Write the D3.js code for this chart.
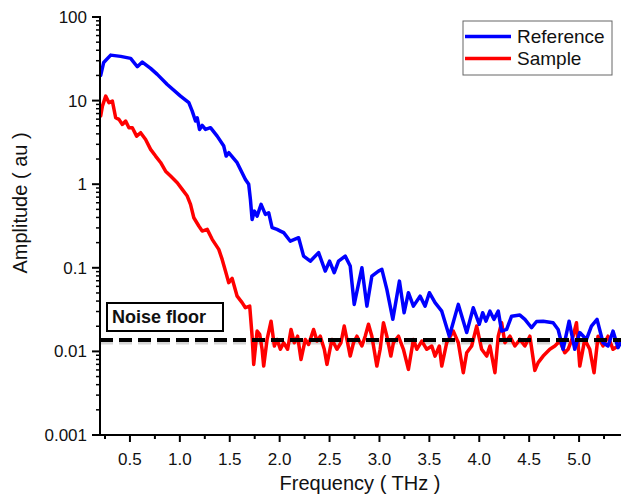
<!DOCTYPE html>
<html>
<head>
<meta charset="utf-8">
<script src="https://d3js.org/d3.v7.min.js"></script>
<style>
  body { margin: 0; background: #fff; }
  svg text { font-family: "Liberation Sans", Arial, sans-serif; fill: #111; }
</style>
</head>
<body>
<div id="chart"></div>
<script>
"use strict"

// Reference spectrum: frequency (THz), amplitude (au)
const refFreq = [0.207,0.237,0.307,0.407,0.507,0.574,0.624,0.707,0.774,0.874,1.007,1.09,1.124,1.157,1.174,1.197,1.224,1.257,1.307,1.374,
  1.44,1.464,1.49,1.574,1.657,1.69,1.707,1.724,1.747,1.774,1.814,1.857,1.89,1.924,1.974,2.007,2.04,2.107,2.19,2.24,
  2.307,2.39,2.457,2.5,2.547,2.59,2.657,2.707,2.747,2.824,2.874,2.924,2.99,3.024,3.074,3.134,3.2,3.247,3.29,3.34,
  3.407,3.457,3.5,3.557,3.624,3.7,3.79,3.874,3.94,4.0,4.034,4.067,4.107,4.147,4.19,4.224,4.274,4.324,4.407,4.457,
  4.524,4.574,4.64,4.74,4.79,4.84,4.9,4.957,5.007,5.074,5.124,5.18,5.24,5.29,5.34,5.39,5.417]
const refAmp = [20.0,28.6,35.0,33.8,32.0,25.4,28.9,24.3,20.6,15.6,11.3,9.44,7.49,5.69,6.24,4.52,5.05,4.52,4.74,3.76,
  2.86,2.17,2.38,1.81,1.14,0.996,0.658,0.379,0.476,0.415,0.573,0.436,0.456,0.302,0.288,0.275,0.263,0.208,0.229,0.138,
  0.120,0.152,0.0914,0.120,0.0873,0.120,0.138,0.105,0.0365,0.100,0.0348,0.0796,0.0914,0.0957,0.0552,0.0242,0.0693,0.0290,0.0504,0.0348,
  0.0458,0.0348,0.0504,0.0383,0.0303,0.0152,0.0365,0.0168,0.0333,0.0211,0.0290,0.0230,0.0303,0.0242,0.0303,0.0175,0.0183,0.0264,0.0272,0.0242,
  0.0192,0.0228,0.0230,0.0220,0.0183,0.0106,0.0230,0.0106,0.0168,0.0139,0.0201,0.0242,0.0127,0.0116,0.0175,0.0111,0.0128]

// Sample spectrum
const samFreq = [0.207,0.224,0.257,0.29,0.324,0.357,0.39,0.424,0.457,0.49,0.524,0.567,0.607,0.657,0.707,0.757,0.807,0.857,0.907,0.974,
  1.024,1.074,1.107,1.14,1.19,1.224,1.274,1.324,1.39,1.424,1.457,1.49,1.524,1.574,1.624,1.657,1.7,1.724,1.74,1.774,
  1.8,1.824,1.84,1.874,1.914,1.947,1.974,2.007,2.04,2.08,2.114,2.147,2.18,2.214,2.257,2.29,2.34,2.374,2.407,2.447,
  2.474,2.524,2.574,2.614,2.647,2.674,2.707,2.74,2.774,2.824,2.857,2.89,2.924,2.974,3.007,3.04,3.074,3.114,3.14,3.19,
  3.24,3.29,3.34,3.374,3.424,3.474,3.524,3.557,3.6,3.624,3.674,3.74,3.79,3.84,3.874,3.924,3.974,4.024,4.074,4.107,
  4.157,4.19,4.224,4.257,4.307,4.357,4.407,4.457,4.507,4.557,4.59,4.64,4.707,4.757,4.807,4.857,4.89,4.94,4.974,5.007,
  5.057,5.107,5.15,5.19,5.24,5.29,5.34,5.39,5.417]
const samAmp = [6.53,8.59,11.3,9.44,9.86,6.24,5.96,5.19,5.69,4.74,4.74,3.76,4.13,3.43,2.61,2.17,1.82,1.43,1.25,1.04,
  0.867,0.721,0.573,0.397,0.316,0.275,0.288,0.219,0.166,0.126,0.0914,0.0664,0.0746,0.0458,0.0383,0.0333,0.0348,0.0152,0.00699,0.0175,
  0.0160,0.0106,0.00667,0.0139,0.0230,0.0116,0.0139,0.0106,0.0127,0.0106,0.0183,0.0127,0.0152,0.00802,0.0139,0.0121,0.0183,0.0133,0.0152,0.0106,
  0.00699,0.0139,0.0106,0.0127,0.0201,0.0139,0.00879,0.0127,0.0152,0.0116,0.0152,0.0211,0.0152,0.00667,0.0106,0.0220,0.0152,0.00879,0.0127,0.0152,
  0.0106,0.00609,0.0139,0.0106,0.0133,0.0106,0.0116,0.00879,0.0116,0.00667,0.0127,0.0175,0.0127,0.00556,0.00964,0.0116,0.0201,0.0106,0.00879,0.0116,
  0.00556,0.0152,0.0220,0.0127,0.0152,0.0116,0.0139,0.0116,0.0152,0.00593,0.00733,0.00879,0.0106,0.0116,0.0133,0.00964,0.0106,0.0152,0.0220,0.00667,
  0.0139,0.0106,0.00556,0.0152,0.0116,0.0152,0.0106,0.0116,0.0132]

const noiseFloor = 0.0137
const xTicks = [0.5,1.0,1.5,2.0,2.5,3.0,3.5,4.0,4.5,5.0]
const xMinor = [0.25,0.75,1.25,1.75,2.25,2.75,3.25,3.75,4.25,4.75,5.25]
const yTicks = [0.001,0.01,0.1,1,10,100]
const yTickLabels = ["0.001","0.01","0.1","1","10","100"]
const seriesNames = ["Reference","Sample"]
const seriesColors = ["#0000ff","#ff0000"]

const W = 621, H = 500
const margin = {top: 17, right: 0, bottom: 65, left: 100}

const svg = d3.select("#chart").append("svg")
  .attr("width", W).attr("height", H)

const x = d3.scaleLinear().domain([0.2, 5.42]).range([margin.left, W - margin.right])
const y = d3.scaleLog().domain([0.001, 100]).range([H - margin.bottom, margin.top])

svg.append("clipPath").attr("id", "plotclip")
  .append("rect")
  .attr("x", margin.left).attr("y", 0)
  .attr("width", W - margin.left).attr("height", H - margin.bottom)

// noise floor (shadow + dashed line)
svg.append("line")
  .attr("x1", x(0.2)).attr("x2", x(5.42))
  .attr("y1", y(noiseFloor) + 3).attr("y2", y(noiseFloor) + 3)
  .attr("stroke", "#bbb").attr("stroke-width", 3).attr("opacity", 0.6)
  .attr("stroke-dasharray", "13,6")

const line = d3.line().x(d => x(d[0])).y(d => y(d[1]))

const series = [
  d3.zip(refFreq, refAmp),
  d3.zip(samFreq, samAmp)
]

svg.append("g").attr("clip-path", "url(#plotclip)")
  .selectAll("path")
  .data([series[1], series[0]])
  .enter().append("path")
    .attr("d", line)
    .attr("fill", "none")
    .attr("stroke", (d, i) => i === 0 ? seriesColors[1] : seriesColors[0])
    .attr("stroke-width", 3.5)
    .attr("stroke-linejoin", "round")
    .attr("stroke-linecap", "round")

svg.append("line")
  .attr("x1", x(0.2)).attr("x2", x(5.42))
  .attr("y1", y(noiseFloor)).attr("y2", y(noiseFloor))
  .attr("stroke", "#000").attr("stroke-width", 4)
  .attr("stroke-dasharray", "13,6")

// x axis
const xAxis = svg.append("g").attr("transform", "translate(0," + (H - margin.bottom) + ")")
xAxis.append("line").attr("x1", margin.left - 1).attr("x2", W).attr("stroke", "#000").attr("stroke-width", 2)
xAxis.selectAll("line.major").data(xTicks).enter().append("line")
  .attr("x1", d => x(d)).attr("x2", d => x(d)).attr("y1", 0).attr("y2", 7)
  .attr("stroke", "#000").attr("stroke-width", 2)
xAxis.selectAll("line.minor").data(xMinor).enter().append("line")
  .attr("x1", d => x(d)).attr("x2", d => x(d)).attr("y1", 0).attr("y2", 4)
  .attr("stroke", "#000").attr("stroke-width", 2)
xAxis.selectAll("text").data(xTicks).enter().append("text")
  .attr("x", d => x(d)).attr("y", 30)
  .attr("text-anchor", "middle").style("font-size", "17px")
  .text(d => d.toFixed(1))

// y axis
const yAxis = svg.append("g").attr("transform", "translate(" + margin.left + ",0)")
yAxis.append("line").attr("y1", y(100) - 1).attr("y2", y(0.001) + 1).attr("stroke", "#000").attr("stroke-width", 2)
const yMinor = []
for (let e = -3; e < 2; e++) for (let k = 2; k <= 9; k++) yMinor.push(k * Math.pow(10, e))
yAxis.selectAll("line.minor").data(yMinor).enter().append("line")
  .attr("x1", -4).attr("x2", 0).attr("y1", d => y(d)).attr("y2", d => y(d))
  .attr("stroke", "#000").attr("stroke-width", 1.5)
yAxis.selectAll("line.major").data(yTicks).enter().append("line")
  .attr("x1", -8).attr("x2", 0).attr("y1", d => y(d)).attr("y2", d => y(d))
  .attr("stroke", "#000").attr("stroke-width", 2)
yAxis.selectAll("text").data(yTicks).enter().append("text")
  .attr("x", -13).attr("y", d => y(d)).attr("dy", "0.35em")
  .attr("text-anchor", "end").style("font-size", "17px")
  .text((d, i) => yTickLabels[i])

// axis titles
svg.append("text").attr("x", 360).attr("y", 490)
  .attr("text-anchor", "middle").style("font-size", "20px")
  .text("Frequency ( THz )")
svg.append("text").attr("transform", "translate(27,203) rotate(-90)")
  .attr("text-anchor", "middle").style("font-size", "20px")
  .text("Amplitude ( au )")

// noise floor label
svg.append("rect").attr("x", 107).attr("y", 303).attr("width", 116).attr("height", 28)
  .attr("fill", "#fff").attr("stroke", "#000").attr("stroke-width", 2)
svg.append("text").attr("x", 112).attr("y", 323)
  .style("font-size", "18px").style("font-weight", "bold")
  .text("Noise floor")

// legend
const legend = svg.append("g")
legend.append("rect").attr("x", 463).attr("y", 21).attr("width", 149).attr("height", 54)
  .attr("fill", "#fff").attr("stroke", "#666").attr("stroke-width", 1)
seriesNames.forEach((name, i) => {
  const ly = 36.5 + i * 22
  legend.append("line").attr("x1", 465).attr("x2", 511).attr("y1", ly).attr("y2", ly)
    .attr("stroke", seriesColors[i]).attr("stroke-width", 3.5)
  legend.append("text").attr("x", 517).attr("y", ly).attr("dy", "0.35em")
    .style("font-size", "19px").text(name)
})
</script>
</body>
</html>
